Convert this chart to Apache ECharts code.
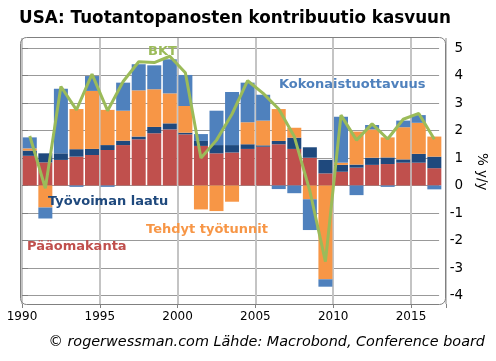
<!DOCTYPE html>
<html><head><meta charset="utf-8">
<script src="https://cdn.jsdelivr.net/npm/echarts@6/dist/echarts.min.js"></script>
<style>html,body{margin:0;padding:0;background:#fff}#c{width:496px;height:361px}</style>
</head><body><div id="c"></div>
<script>
var years = [1990,1991,1992,1993,1994,1995,1996,1997,1998,1999,2000,2001,2002,2003,2004,2005,2006,2007,2008,2009,2010,2011,2012,2013,2014,2015,2016];
var paaomakanta = [1.08,0.84,0.93,1.05,1.11,1.29,1.47,1.68,1.90,2.04,1.86,1.44,1.17,1.20,1.33,1.41,1.50,1.33,1.01,0.44,0.50,0.65,0.75,0.78,0.83,0.83,0.63];
var tyovoimanLaatu = [0.19,0.33,0.24,0.27,0.22,0.18,0.16,0.10,0.23,0.22,0.06,0.18,0.30,0.27,0.17,0.05,0.12,0.41,0.38,0.49,0.25,0.11,0.26,0.24,0.12,0.32,0.42];
var tehdytTyotunnit = [0.08,-0.80,0.00,1.46,2.11,1.28,1.09,1.68,1.37,1.09,0.97,-0.87,-0.93,-0.59,0.80,0.90,1.16,0.36,-0.50,-3.41,0.08,1.20,1.03,0.73,1.17,1.13,0.73];
var kokonaistuottavuus = [0.40,-0.40,2.35,-0.05,0.54,-0.05,1.02,0.95,0.87,1.24,1.13,0.25,1.25,1.93,1.44,0.94,-0.13,-0.28,-1.12,-0.27,1.67,-0.35,0.16,-0.05,0.24,0.28,-0.14];
var bkt = [1.8,-0.1,3.6,2.75,4.05,2.72,3.78,4.5,4.47,4.7,4.1,1.0,1.65,2.6,3.81,3.35,2.78,1.78,-0.2,-2.77,2.56,1.65,2.24,1.69,2.41,2.62,1.68];
var xTicks = [1990,1995,2000,2005,2010,2015];
var yTicks = [-4,-3,-2,-1,0,1,2,3,4,5];

var FONT = 'DejaVu Sans';
var cats = years.map(String);
var chart = echarts.init(document.getElementById('c'), null, {renderer:'canvas'});
function barSeries(name, vals, color){
  return {name:name, type:'bar', stack:'s', xAxisIndex:1, yAxisIndex:1, barWidth:14,
    data:vals.slice(), itemStyle:{color:color}, silent:true, animation:false};
}
// one year = 15.56 px; 27 bars from x=22
var bandW = 15.56;
var gridBRight = 496 - (22 + bandW*years.length);
chart.setOption({
  animation:false,
  title:{text:'USA: Tuotantopanosten kontribuutio kasvuun', left:14, top:5,
    textStyle:{fontFamily:FONT, fontSize:16.8, fontWeight:'bold', color:'#000'}},
  grid:[
    {left:22, right:50, top:38, bottom:57, show:false},
    {left:22, right:gridBRight, top:48, bottom:65.5, show:false},
    {left:22, right:50, top:48, bottom:65.5, show:false}
  ],
  xAxis:[
    {type:'value', gridIndex:0, min:1990, max:2017.25, interval:5,
      axisLine:{show:false},
      axisTick:{show:true, length:4, lineStyle:{color:'#808080'}},
      axisLabel:{fontFamily:FONT, fontSize:12, color:'#000', margin:7,
        formatter:function(v){ return xTicks.indexOf(v)>=0 ? String(v) : ''; }},
      splitLine:{show:true, lineStyle:{color:'#c4c4c4', width:2}}},
    {type:'category', gridIndex:1, data:cats, boundaryGap:true, show:false},
    {type:'value', gridIndex:2, min:0, max:1, show:false, splitLine:{show:false}}
  ],
  yAxis:[
    {type:'value', gridIndex:0, min:0, max:1, show:false, splitLine:{show:false}},
    {type:'value', gridIndex:1, min:-4, max:5, interval:1, show:false, splitLine:{show:false}},
    {type:'value', gridIndex:2, position:'right', min:-4, max:5, interval:1,
      axisLine:{show:false},
      axisTick:{show:true, length:6, lineStyle:{color:'#808080'}},
      axisLabel:{fontFamily:FONT, fontSize:13.5, color:'#000', margin:24, align:'right',
        formatter:function(v){ return yTicks.indexOf(v)>=0 ? String(v) : ''; }},
      splitLine:{show:true, lineStyle:{color:'#999999', width:1}},
      name:'% y/y', nameLocation:'middle', nameRotate:-90, nameGap:34,
      nameTextStyle:{fontFamily:FONT, fontSize:13.5, color:'#000'}}
  ],
  series:[
    barSeries('Pääomakanta', paaomakanta, '#c0504d'),
    barSeries('Työvoiman laatu', tyovoimanLaatu, '#1f497d'),
    barSeries('Tehdyt työtunnit', tehdytTyotunnit, '#f79646'),
    barSeries('Kokonaistuottavuus', kokonaistuottavuus, '#4f81bd'),
    {name:'BKT', type:'line', xAxisIndex:1, yAxisIndex:1, data:bkt.slice(), symbol:'none',
      lineStyle:{color:'#9bbb59', width:3}, z:5, animation:false}
  ],
  graphic:[
    {type:'rect', shape:{x:20.5, y:37.5, width:425, height:267, r:6}, style:{fill:'none', stroke:'#808080', lineWidth:1}, z:10},
    {type:'text', left:148, top:45, style:{text:'BKT', font:'bold 13px "DejaVu Sans"', fill:'#9bbb59'}, z:20},
    {type:'text', left:279, top:78, style:{text:'Kokonaistuottavuus', font:'bold 13px "DejaVu Sans"', fill:'#4f81bd'}, z:20},
    {type:'text', left:48, top:195, style:{text:'Työvoiman laatu', font:'bold 13px "DejaVu Sans"', fill:'#1f497d'}, z:20},
    {type:'text', left:146, top:223, style:{text:'Tehdyt työtunnit', font:'bold 13px "DejaVu Sans"', fill:'#f79646'}, z:20},
    {type:'text', left:27, top:240, style:{text:'Pääomakanta', font:'bold 13px "DejaVu Sans"', fill:'#c0504d'}, z:20},
    {type:'text', right:11, top:335, style:{text:'© rogerwessman.com Lähde: Macrobond, Conference board', font:'italic 14.4px "DejaVu Sans"', fill:'#000'}, z:20}
  ]
});
</script></body></html>
